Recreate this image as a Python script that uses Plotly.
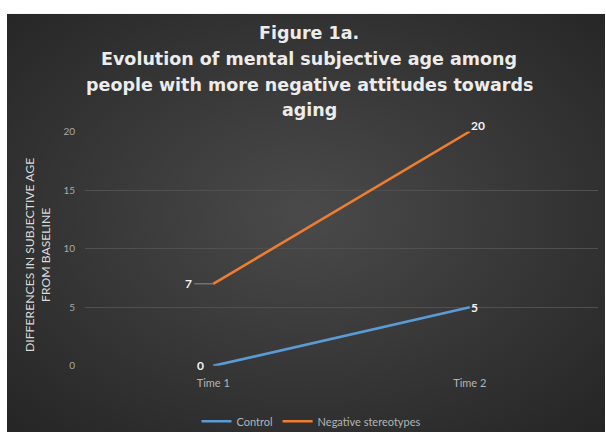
import base64
import plotly.graph_objects as go

# Chart data
times = ["Time 1", "Time 2"]
control = [0, 5]
negative = [7, 20]
y_ticks = [0, 5, 10, 15, 20]

W, H = 606, 437
FONT = "Lato"
TITLE_FONT = "DejaVu Sans"

title_lines = [
    "Figure 1a.",
    "Evolution of mental subjective age among",
    "people with more negative attitudes towards",
    "aging",
]

# Dark radial-gradient backdrop in the Office "dark" style
svg = (
    '<svg xmlns="http://www.w3.org/2000/svg" width="600" height="430" '
    'preserveAspectRatio="none" viewBox="0 0 600 430">'
    '<defs><radialGradient id="g" cx="50%" cy="48%" r="70%">'
    '<stop offset="0%" stop-color="#4a4a4a"/>'
    '<stop offset="100%" stop-color="#262626"/>'
    '</radialGradient></defs>'
    '<rect width="600" height="430" fill="url(#g)"/></svg>'
)
bg_uri = "data:image/svg+xml;base64," + base64.b64encode(svg.encode()).decode()

fig = go.Figure()
fig.add_trace(go.Scatter(
    x=times, y=control, mode="lines", name="Control",
    line=dict(color="#5b9bd5", width=2.6),
))
fig.add_trace(go.Scatter(
    x=times, y=negative, mode="lines", name="Negative stereotypes",
    line=dict(color="#ed7d31", width=2.6),
))

label_font = dict(family=FONT, size=12, color="#f2f2f2")
annotations = []
# Value labels: left of the first point, right of the second
for series in (control, negative):
    v0, v1 = series
    lead = v0 != 0
    annotations.append(dict(
        x=times[0], y=v0, text=f"<b>{v0}</b>", font=label_font,
        showarrow=lead, arrowhead=0, arrowwidth=1, arrowcolor="#8c8c8c",
        ax=-19 if lead else 0, ay=0, xanchor="right", yanchor="middle",
        xshift=0 if lead else -7,
    ))
for series, ys in ((control, 0), (negative, 6)):
    v = series[1]
    annotations.append(dict(
        x=times[1], y=v, text=f"<b>{v}</b>", font=label_font,
        showarrow=False, xanchor="left", yanchor="middle",
        xshift=-1, yshift=ys,
    ))

# Title block, one annotation per line
title_centres = [27, 53.5, 80, 106]
for line, yc in zip(title_lines, title_centres):
    annotations.append(dict(
        xref="paper", yref="paper", x=309 / W, y=1 - yc / H,
        text=f"<b>{line}</b>", showarrow=False, xanchor="center", yanchor="middle",
        font=dict(family=TITLE_FONT, size=17.5, color="#ececec"),
    ))

# Y axis title (two lines, rotated)
annotations.append(dict(
    xref="paper", yref="paper", x=38 / W, y=1 - 255 / H,
    text="DIFFERENCES IN SUBJECTIVE AGE<br>FROM BASELINE",
    textangle=-90, showarrow=False, xanchor="center", yanchor="middle",
    font=dict(family=FONT, size=12.2, color="#dadada"),
))

fig.update_layout(
    width=W, height=H,
    margin=dict(l=0, r=0, t=0, b=0),
    paper_bgcolor="white",
    plot_bgcolor="rgba(0,0,0,0)",
    font=dict(family=FONT, color="#b4b4b4"),
    images=[dict(
        source=bg_uri, xref="paper", yref="paper",
        x=7 / W, y=1 - 7 / H, sizex=(605 - 7) / W, sizey=(H - 7) / H,
        xanchor="left", yanchor="top", sizing="stretch", layer="below",
    )],
    xaxis=dict(
        domain=[85 / W, 598 / W], type="category", range=[-0.5, 1.5],
        showgrid=False, zeroline=False, showline=False, ticks="",
        tickfont=dict(family=FONT, size=11, color="#b4b4b4"),
        ticklabelstandoff=9,
    ),
    yaxis=dict(
        domain=[1 - 369 / H, 1 - 128 / H], range=[0, 20],
        tickvals=y_ticks, showgrid=True, gridcolor="#505050", gridwidth=1,
        zeroline=False, showline=False, ticks="",
        tickfont=dict(family=FONT, size=10, color="#a8a8a8"),
        ticklabelstandoff=9,
    ),
    legend=dict(
        orientation="h", x=311 / W, xanchor="center", y=1 - 426 / H, yanchor="middle",
        font=dict(family=FONT, size=11, color="#b4b4b4"),
        bgcolor="rgba(0,0,0,0)", itemwidth=30,
    ),
    annotations=annotations,
)

fig.write_html("out.html")
